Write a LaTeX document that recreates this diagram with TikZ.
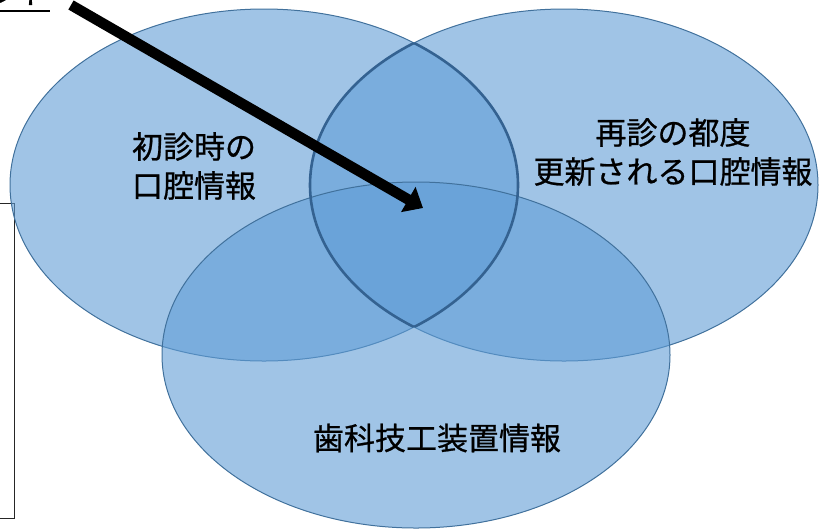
\documentclass[tikz,border=0pt]{standalone}
\usepackage{fontspec}
\newfontfamily\jp{Noto Sans CJK JP}[FakeBold=0.7]
\usetikzlibrary{arrows.meta}
\definecolor{setfill}{RGB}{96,157,214}
\definecolor{setline}{RGB}{65,113,156}
\definecolor{lensline}{RGB}{52,98,145}
\tikzset{
  setshape/.style={fill=setfill, fill opacity=0.6, draw=setline, draw opacity=1, line width=1pt},
  lensedge/.style={draw=lensline, line width=2.6pt},
  label/.style={font=\fontsize{31}{39}\jp, text=black, align=center, inner sep=0pt},
  bigarrow/.style={line width=10.5pt, -{Triangle[width=28pt,length=17pt]}, black},
  framebox/.style={draw=black!85, line width=1pt}
}
\begin{document}
\begin{tikzpicture}[x=1pt,y=-1pt]
\useasboundingbox (0,0) rectangle (824,531);
\clip (0,0) rectangle (824,531);
% partial frame on the left edge
\draw[framebox] (-20,203) -- (14,203) -- (14,518) -- (-20,518);
% three sets
\path[setshape] (264,185) ellipse [x radius=254, y radius=176];
\path[setshape] (564,185) ellipse [x radius=254, y radius=176];
\path[setshape] (416,355) ellipse [x radius=254, y radius=173];
% lens outline (left and right overlap)
\begin{scope}
  \clip (564,185) ellipse [x radius=254, y radius=176];
  \draw[lensedge] (264,185) ellipse [x radius=254, y radius=176];
\end{scope}
\begin{scope}
  \clip (264,185) ellipse [x radius=254, y radius=176];
  \draw[lensedge] (564,185) ellipse [x radius=254, y radius=176];
\end{scope}
% labels
\node[label] (first) at (194,166) {初診時の\\口腔情報};
\node[label] (revisit) at (673,152) {\fontsize{31}{37}\selectfont 再診の都度\\更新される口腔情報};
\node[label] (lab) at (437,438) {歯科技工装置情報};
% cut-off heading at top left
\node[label, anchor=base east] (head) at (50,4) {ント};
\draw[line width=2pt] ([yshift=-6.5pt]head.base west) -- ([yshift=-6.5pt]head.base east);
% arrow
\coordinate (tail) at (71,5);
\coordinate (tip) at (423,208);
\draw[bigarrow] (tail) -- (tip);
\end{tikzpicture}
\end{document}
